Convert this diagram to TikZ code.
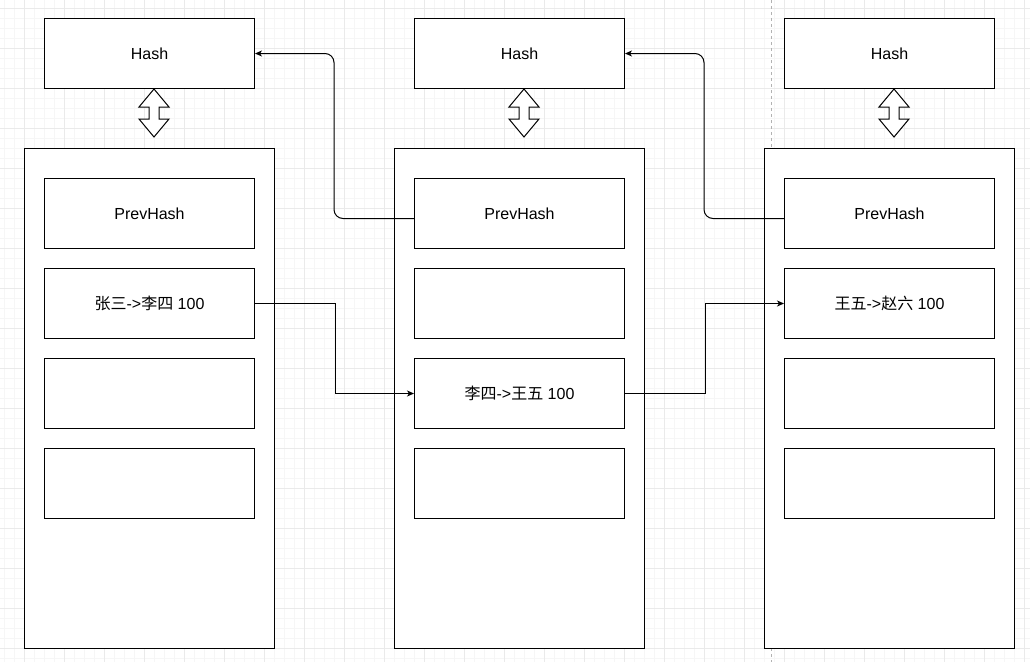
\documentclass[tikz,border=0pt]{standalone}
\usepackage{fontspec}
\setmainfont{Liberation Sans}
\newfontfamily\cjk{Noto Sans CJK SC}
\usetikzlibrary{arrows.meta}
\definecolor{gridminor}{HTML}{F6F6F6}
\definecolor{gridmajor}{HTML}{EAEAEA}
\tikzset{
  box/.style={draw=black, fill=white, line width=1pt, inner sep=0pt, anchor=north west,
    minimum width=210pt, minimum height=70pt, font=\fontsize{16}{18}\selectfont},
  block/.style={draw=black, fill=white, line width=1pt, inner sep=0pt, anchor=north west,
    minimum width=250pt, minimum height=500pt},
  conn/.style={draw=black, line width=1pt, -{Stealth[length=7pt,width=6pt,inset=2pt]}},
  dbl/.style={draw=black, fill=white, line width=1pt, line join=miter},
}
\begin{document}
\begin{tikzpicture}[x=1pt,y=-1pt]
\useasboundingbox (0,0) rectangle (1030,662);
\fill[white] (0,0) rectangle (1030,662);
% grid
\foreach \x in {4,14,...,1030} \draw[gridminor, line width=1pt] (\x,0) -- (\x,662);
\foreach \y in {8,18,...,662} \draw[gridminor, line width=1pt] (0,\y) -- (1030,\y);
\foreach \x in {24,64,...,1030} \draw[gridmajor, line width=1pt] (\x,0) -- (\x,662);
\foreach \y in {8,48,...,662} \draw[gridmajor, line width=1pt] (0,\y) -- (1030,\y);
% dashed separator
\draw[gray!60, line width=1pt, dash pattern=on 3pt off 3pt] (771.5,0) -- (771.5,662);
% hash boxes
\node[box] (h1) at (44,18) {Hash};
\node[box] (h2) at (414,18) {Hash};
\node[box] (h3) at (784,18) {Hash};
% double arrows
\foreach \cx in {154,524,894}{
  \draw[dbl] (\cx,89) -- (\cx+15,107) -- (\cx+5,107) -- (\cx+5,119) -- (\cx+15,119) -- (\cx,137)
    -- (\cx-15,119) -- (\cx-5,119) -- (\cx-5,107) -- (\cx-15,107) -- cycle;
}
% blocks
\node[block] (b1) at (24,148) {};
\node[block] (b2) at (394,148) {};
\node[block] (b3) at (764,148) {};
% block 1
\node[box] (b1p) at (44,178) {PrevHash};
\node[box] (b1t1) at (44,268) {{\cjk 张三}->{\cjk 李四} 100};
\node[box] (b1t2) at (44,358) {};
\node[box] (b1t3) at (44,448) {};
% block 2
\node[box] (b2p) at (414,178) {PrevHash};
\node[box] (b2t1) at (414,268) {};
\node[box] (b2t2) at (414,358) {{\cjk 李四}->{\cjk 王五} 100};
\node[box] (b2t3) at (414,448) {};
% block 3
\node[box] (b3p) at (784,178) {PrevHash};
\node[box] (b3t1) at (784,268) {{\cjk 王五}->{\cjk 赵六} 100};
\node[box] (b3t2) at (784,358) {};
\node[box] (b3t3) at (784,448) {};
% connectors
\draw[conn, rounded corners=9pt] ([yshift=-5pt]b2p.west) -- ++(-80,0) |- (h1.east);
\draw[conn, rounded corners=9pt] ([yshift=-5pt]b3p.west) -- ++(-80,0) |- (h2.east);
\draw[conn] (b1t1.east) -- ++(80,0) |- (b2t2.west);
\draw[conn] (b2t2.east) -- ++(80,0) |- (b3t1.west);
\end{tikzpicture}
\end{document}
